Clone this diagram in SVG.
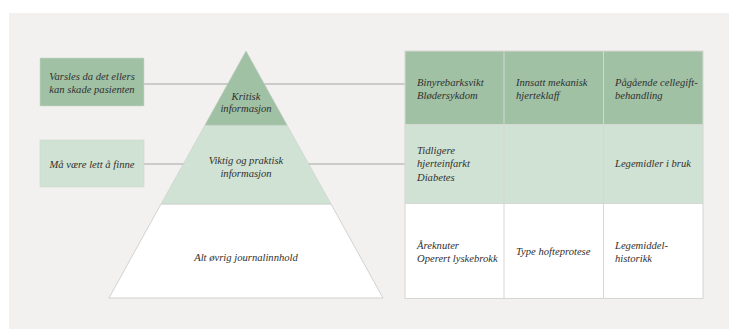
<svg xmlns="http://www.w3.org/2000/svg" width="729" height="329" viewBox="0 0 729 329">
<style>
text{font-family:"Liberation Serif","DejaVu Serif",serif;font-style:italic;font-size:10.6px;fill:#303030}
.c{text-anchor:middle}
.dark{fill:#a0c1a4}
.light{fill:#d0e2d3}
.white{fill:#ffffff}
.grid{stroke:#d6d6d4;stroke-width:1}
.conn{stroke:#a4a4a2;stroke-width:1;fill:none}
</style>
<rect width="729" height="329" fill="#ffffff"/>
<rect x="9" y="13" width="720" height="316" fill="#f2f1ef"/>
<g id="connectors">
<line class="conn" x1="144" y1="84" x2="405" y2="84"/>
<line class="conn" x1="144" y1="164" x2="405" y2="164"/>
</g>
<g id="box-varsles">
<rect class="dark" x="40" y="58" width="104" height="48" stroke="#c9d6ca" stroke-width="0.6"/>
<text class="c" x="92" y="80">Varsles da det ellers</text>
<text class="c" x="92" y="92.5">kan skade pasienten</text>
</g>
<g id="box-finne">
<rect class="light" x="40" y="140" width="104" height="47" stroke="#c9d6ca" stroke-width="0.6"/>
<text class="c" x="92" y="167.5">Må være lett å finne</text>
</g>
<g id="pyramid">
<polygon class="white" points="161,204 331,204 383,298 109,298" stroke="#c8c8c6" stroke-width="0.8"/>
<polygon class="light" points="205,125 287,125 331,204 161,204" stroke="#c8d0c9" stroke-width="0.6"/>
<polygon class="dark" points="246,51 287,125 205,125" stroke="#b8c8ba" stroke-width="0.6"/>
<text class="c" x="246" y="99.5">Kritisk</text>
<text class="c" x="246" y="112">informasjon</text>
<text class="c" x="246" y="164">Viktig og praktisk</text>
<text class="c" x="246" y="177">informasjon</text>
<text class="c" x="246" y="261">Alt øvrig journalinnhold</text>
</g>
<g id="table">
<rect class="dark" x="405" y="51" width="298" height="73.5"/>
<rect class="light" x="405" y="124.5" width="298" height="79"/>
<rect class="white" x="405" y="203.5" width="298" height="95"/>
<rect x="405" y="51" width="298" height="247.5" fill="none" class="grid"/>
<line class="grid" x1="405" y1="124.5" x2="703" y2="124.5"/>
<line class="grid" x1="405" y1="203.5" x2="703" y2="203.5"/>
<line class="grid" x1="504" y1="51" x2="504" y2="298.5"/>
<line class="grid" x1="603.5" y1="51" x2="603.5" y2="298.5"/>
</g>
<g id="cell-r1c1"><text x="417" y="86">Binyrebarksvikt</text><text x="417" y="99">Blødersykdom</text></g>
<g id="cell-r1c2"><text x="516" y="86">Innsatt mekanisk</text><text x="516" y="99">hjerteklaff</text></g>
<g id="cell-r1c3"><text x="615" y="86">Pågående cellegift-</text><text x="615" y="99">behandling</text></g>
<g id="cell-r2c1"><text x="417" y="154">Tidligere</text><text x="417" y="167">hjerteinfarkt</text><text x="417" y="181">Diabetes</text></g>
<g id="cell-r2c3"><text x="615" y="167">Legemidler i bruk</text></g>
<g id="cell-r3c1"><text x="417" y="249">Åreknuter</text><text x="417" y="262">Operert lyskebrokk</text></g>
<g id="cell-r3c2"><text x="516" y="254.5">Type hofteprotese</text></g>
<g id="cell-r3c3"><text x="615" y="249">Legemiddel-</text><text x="615" y="262">historikk</text></g>
</svg>
